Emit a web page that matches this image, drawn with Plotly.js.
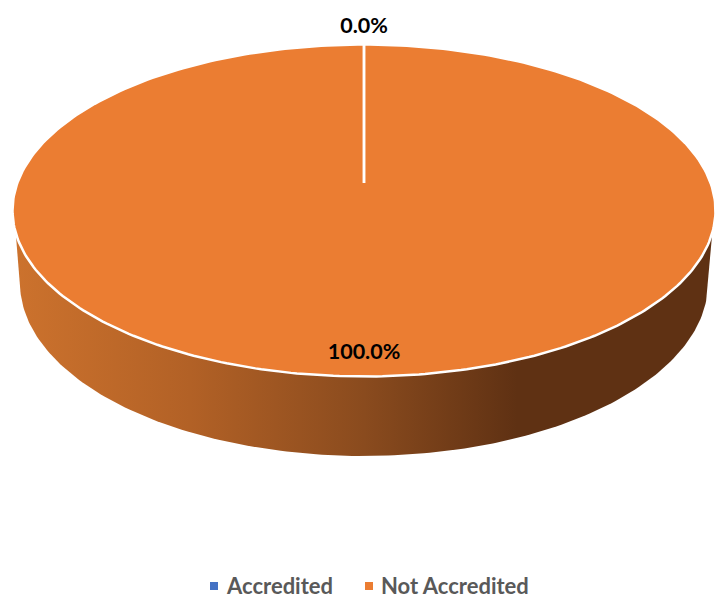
<!DOCTYPE html>
<html>
<head>
<meta charset="utf-8">
<script src="https://cdn.plot.ly/plotly-3.0.1.min.js"></script>
<style>html,body{margin:0;padding:0;background:#fff}#chart{width:717px;height:608px}</style>
</head>
<body>
<div id="chart"></div>
<script>
// Chart values
var categories = ['Accredited', 'Not Accredited'];
var values = [0, 100];
var sliceColors = ['#4472C4', '#EB7D32'];

// Drawing geometry (pixel-mapped axes)
var W = 717, H = 608;
var top3d = {cx: 364, cy: 210.5, rx: 351.5, ry: 166, apexY: 183};
var base3d = {cx: 364, cy: 283, rx: 344, ry: 173};
var sideStartY = 233;
var sideScale = [[0,'#CC722D'],[0.25,'#B26126'],[0.5,'#8A4B1E'],[0.72,'#5F3113'],[1,'#5F3113']];
var labelPos = [[364, 28], [364, 354]];
var legendX = [214, 369], legendTextX = [227, 381], legendY = 586;
var fontFam = 'Lato, "Open Sans", sans-serif';

var total = values.reduce(function (a, b) { return a + b; }, 0);

function rim(e, t) { // t measured clockwise from 12 o'clock
  return [e.cx + e.rx * Math.sin(t), e.cy - e.ry * Math.cos(t)];
}
function wedge(a0, a1) {
  var xs = [top3d.cx], ys = [top3d.apexY], n = 360;
  for (var i = 0; i <= n; i++) {
    var p = rim(top3d, a0 + (a1 - a0) * i / n);
    xs.push(p[0]); ys.push(p[1]);
  }
  xs.push(top3d.cx); ys.push(top3d.apexY);
  return {x: xs, y: ys};
}
function sidePolygon() {
  var xs = [], ys = [], n = 180;
  for (var i = 0; i <= n; i++) {
    var p = rim(base3d, Math.PI / 2 + Math.PI * i / n);
    xs.push(p[0]); ys.push(p[1]);
  }
  // close up to the point where the side meets the top rim
  var dy = sideStartY - top3d.cy;
  var dxTop = top3d.rx * Math.sqrt(1 - dy * dy / (top3d.ry * top3d.ry));
  xs.unshift(top3d.cx + dxTop); ys.unshift(sideStartY);
  xs.push(top3d.cx - dxTop); ys.push(sideStartY);
  return {x: xs, y: ys};
}

var traces = [];
var side = sidePolygon();
traces.push({
  type: 'scatter', mode: 'lines', x: side.x, y: side.y, fill: 'toself',
  fillgradient: {type: 'horizontal', colorscale: sideScale},
  line: {width: 0}, hoverinfo: 'skip', showlegend: false
});

var cum = 0, order = [1, 0];
var angles = values.map(function (v) {
  var a0 = cum / total * 2 * Math.PI;
  cum += v;
  return [a0, cum / total * 2 * Math.PI];
});
order.forEach(function (i) {
  var w = wedge(angles[i][0], angles[i][1]);
  traces.push({
    type: 'scatter', mode: 'lines', x: w.x, y: w.y, fill: 'toself',
    fillcolor: sliceColors[i], line: {color: '#FFFFFF', width: 2.5},
    name: categories[i], hoverinfo: 'name', showlegend: false
  });
});

// percentage labels
traces.push({
  type: 'scatter', mode: 'text',
  x: labelPos.map(function (p) { return p[0]; }),
  y: labelPos.map(function (p) { return p[1]; }),
  text: values.map(function (v) { return (v / total * 100).toFixed(1) + '%'; }),
  textposition: 'middle center',
  textfont: {family: fontFam, size: 21.5, color: '#000000', weight: 700},
  hoverinfo: 'skip', showlegend: false
});
// legend swatches
traces.push({
  type: 'scatter', mode: 'markers', x: legendX, y: [legendY, legendY],
  marker: {symbol: 'square', size: 8, color: sliceColors},
  hoverinfo: 'skip', showlegend: false
});
// legend labels
traces.push({
  type: 'scatter', mode: 'text', x: legendTextX, y: [legendY + 2, legendY + 2],
  text: categories, textposition: 'middle right',
  textfont: {family: fontFam, size: 22, color: '#595959', weight: 700},
  hoverinfo: 'skip', showlegend: false
});

var layout = {
  width: W, height: H,
  margin: {l: 0, r: 0, t: 0, b: 0, pad: 0},
  paper_bgcolor: '#FFFFFF', plot_bgcolor: '#FFFFFF',
  showlegend: false,
  xaxis: {range: [0, W], visible: false, fixedrange: true},
  yaxis: {range: [H, 0], visible: false, fixedrange: true}
};
Plotly.newPlot('chart', traces, layout, {displayModeBar: false, staticPlot: true});
</script>
</body>
</html>
